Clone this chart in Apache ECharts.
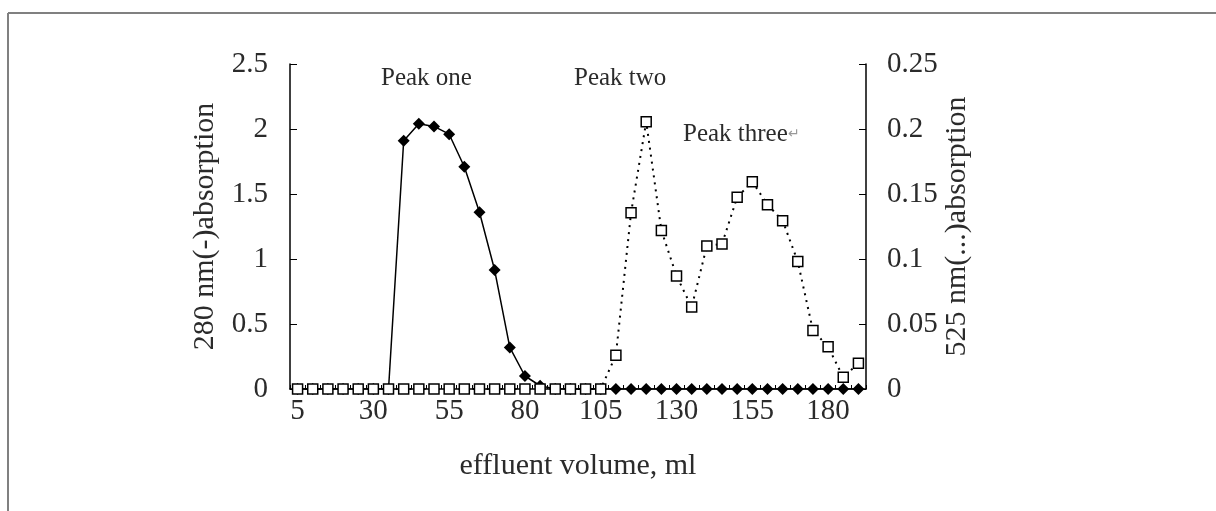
<!DOCTYPE html>
<html>
<head>
<meta charset="utf-8">
<script src="https://cdn.jsdelivr.net/npm/echarts@6/dist/echarts.min.js"></script>
<style>
  html, body { margin: 0; padding: 0; background: #fff; }
  #chart { width: 1216px; height: 511px; }
</style>
</head>
<body>
<div id="chart"></div>
<script>
// effluent volume, ml (5 .. 190 step 5)
const volumes = ['5','10','15','20','25','30','35','40','45','50','55','60','65','70','75','80','85','90','95',
  '100','105','110','115','120','125','130','135','140','145','150','155','160','165','170','175','180','185','190']

// 280 nm absorption (solid line, filled markers)
const abs280 = [0,0,0,0,0,0,0,1.91,2.04,2.02,1.96,1.71,1.36,0.915,0.32,0.10,0.025,0,0,
  0,0,0,0,0,0,0,0,0,0,0,0,0,0,0,0,0,0,0]

// 525 nm absorption (dotted line, open squares)
const abs525 = [0,0,0,0,0,0,0,0,0,0,0,0,0,0,0,0,0,0,0,
  0,0,0.026,0.1356,0.2056,0.122,0.087,0.063,0.11,0.1115,0.1475,0.1595,0.1418,0.1295,0.098,0.045,0.0325,0.009,0.0198]

const peakNames = ['Peak one', 'Peak two', 'Peak three']

const font = 'Liberation Serif'
const textColor = '#2b2b2b'

const dom = echarts.init(document.getElementById('chart'))

const option = {
    animation: false,
    backgroundColor: '#fff',
    textStyle: { fontFamily: font },
    grid: {
        left: 290,
        right: 350,
        top: 64,
        bottom: 122
    },
    xAxis: {
        type: 'category',
        data: volumes,
        boundaryGap: true,
        name: 'effluent volume, ml',
        nameLocation: 'middle',
        nameGap: 62,
        nameTextStyle: { fontFamily: font, fontSize: 30, color: textColor },
        axisLine: { lineStyle: { color: '#000', width: 1.5 } },
        axisTick: { show: true, inside: true, length: 4, interval: 0, lineStyle: { color: '#000' } },
        axisLabel: { interval: 4, fontFamily: font, fontSize: 29, color: textColor, margin: 8 },
        splitLine: { show: false }
    },
    yAxis: [
        {
            type: 'value',
            min: 0,
            max: 2.5,
            interval: 0.5,
            position: 'left',
            name: '280 nm(-)absorption',
            nameLocation: 'middle',
            nameGap: 70,
            nameRotate: 90,
            nameTextStyle: { fontFamily: font, fontSize: 30, color: textColor },
            axisLine: { show: true, lineStyle: { color: '#000', width: 1.5 } },
            axisTick: { show: true, inside: true, length: 7, lineStyle: { color: '#000' } },
            axisLabel: { fontFamily: font, fontSize: 29, color: textColor, margin: 22 },
            splitLine: { show: false }
        },
        {
            type: 'value',
            min: 0,
            max: 0.25,
            interval: 0.05,
            position: 'right',
            name: '525 nm(...)absorption',
            nameLocation: 'middle',
            nameGap: 67,
            nameRotate: 90,
            nameTextStyle: { fontFamily: font, fontSize: 30, color: textColor },
            axisLine: { show: true, lineStyle: { color: '#000', width: 1.5 } },
            axisTick: { show: true, inside: true, length: 7, lineStyle: { color: '#000' } },
            axisLabel: { fontFamily: font, fontSize: 29, color: textColor, margin: 21 },
            splitLine: { show: false }
        }
    ],
    series: [
        {
            name: '280 nm',
            type: 'line',
            yAxisIndex: 0,
            data: abs280,
            symbol: 'diamond',
            symbolSize: 12,
            showAllSymbol: true,
            lineStyle: { color: '#000', width: 1.5, type: 'solid' },
            itemStyle: { color: '#000' }
        },
        {
            name: '525 nm',
            type: 'line',
            yAxisIndex: 1,
            data: abs525,
            symbol: 'rect',
            symbolSize: 10,
            showAllSymbol: true,
            lineStyle: { color: '#000', width: 2, type: [2, 5] },
            itemStyle: { color: '#fff', borderColor: '#000', borderWidth: 1.5 }
        }
    ],
    graphic: [
        { type: 'line', shape: { x1: 8, y1: 13, x2: 1216, y2: 13 }, style: { stroke: '#808080', lineWidth: 2 } },
        { type: 'line', shape: { x1: 8, y1: 13, x2: 8, y2: 511 }, style: { stroke: '#808080', lineWidth: 2 } },
        { type: 'text', left: 381, top: 66, style: { text: peakNames[0], font: '25px "' + font + '"', fill: textColor } },
        { type: 'text', left: 574, top: 66, style: { text: peakNames[1], font: '25px "' + font + '"', fill: textColor } },
        {
            type: 'text', left: 683, top: 122,
            style: {
                text: '{a|' + peakNames[2] + '}{b|↵}',
                rich: {
                    a: { fontFamily: font, fontSize: 25, fill: textColor },
                    b: { fontFamily: font, fontSize: 14, fill: '#999' }
                }
            }
        }
    ]
}

dom.setOption(option)
</script>
</body>
</html>
